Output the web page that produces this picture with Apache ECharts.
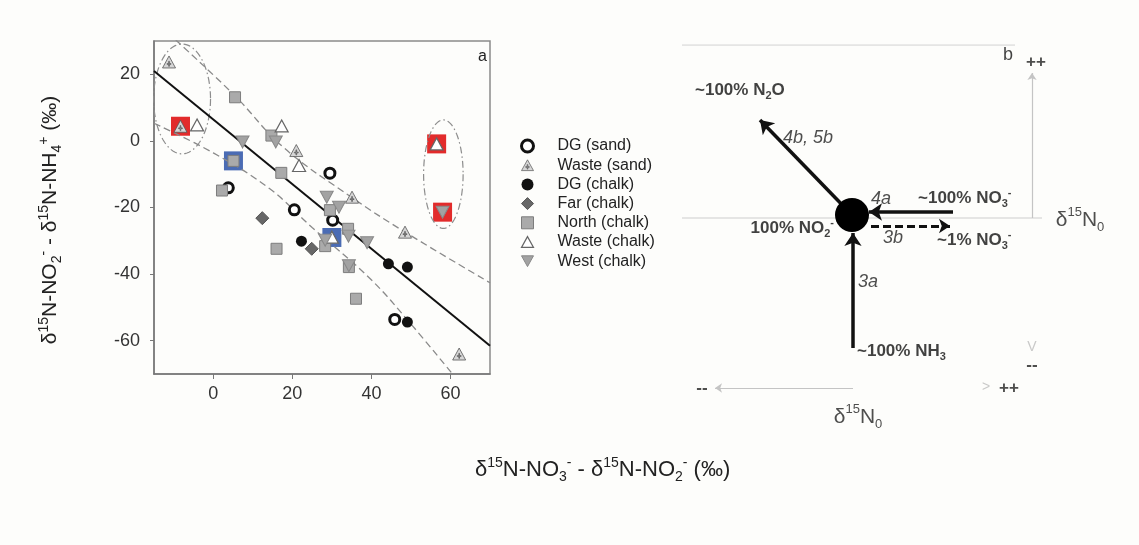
<!DOCTYPE html>
<html><head><meta charset="utf-8">
<script src="https://cdn.jsdelivr.net/npm/echarts@6/dist/echarts.min.js"></script>
<style>html,body{margin:0;padding:0;background:#fdfdfb}#c{width:1139px;height:545px}</style>
</head><body><div id="c"></div>
<script>
// ---------- data (left panel) ----------
const categories = ['DG (sand)','Waste (sand)','DG (chalk)','Far (chalk)','North (chalk)','Waste (chalk)','West (chalk)'];
const dgSand = [[3.8,-14.1],[29.5,-9.7],[20.5,-20.7],[30.2,-23.8],[45.9,-53.6]];
const wasteSand = [[-11.2,23.7],[-8.3,4.4],[21.0,-2.9],[35.1,-16.9],[48.5,-27.4],[62.2,-64.0]];
const dgChalk = [[22.3,-30.1],[44.3,-36.9],[49.1,-37.9],[49.1,-54.4]];
const farChalk = [[12.4,-23.2],[24.9,-32.4]];
const northChalk = [[5.5,13.1],[5.1,-6.0],[2.2,-14.9],[14.7,1.6],[17.2,-9.6],[16.0,-32.4],[29.5,-20.8],[34.1,-26.4],[28.3,-31.6],[34.3,-37.9],[36.1,-47.4]];
const wasteChalk = [[-4.1,4.8],[17.3,4.5],[21.7,-7.4],[30.0,-28.9],[56.5,-0.9]];
const westChalk = [[7.4,-0.3],[15.8,-0.3],[28.7,-16.9],[31.8,-19.9],[28.3,-29.8],[34.2,-28.6],[38.9,-30.6],[34.3,-37.5],[58.0,-21.4]];
const redHighlight = [[-8.3,4.4],[56.5,-0.9],[58.0,-21.4]];
const blueHighlight = [[5.1,-6.0],[30.0,-29.0]];
const fitLine = [[-15,21.0],[70,-61.5]];
const upperBand = [[-9.5,30.3],[5.5,13.5],[17.7,-1.9],[35.3,-17.2],[48.4,-27.3],[70,-42.6]];
const lowerBand = [[-15,5.3],[0,-3.6],[14.3,-14.4],[25,-26],[39.7,-41.4],[50,-55],[60.5,-70]];
const groupEllipses = [[-7.9,12.6,7.2,16.5],[58.2,-10.0,5.0,16.3]];
const xTicks = [0,20,40,60];
const yTicks = [-60,-40,-20,0,20];
const seriesData = [dgSand, wasteSand, dgChalk, farChalk, northChalk, wasteChalk, westChalk];

// ---------- schematic (right panel), units of the hidden schematic axes ----------
const schemFrame = [[[-17,17],[16.3,17]], [[-17,-0.3],[19,-0.3]]];
const schemArrowsThick = [[[0,0],[-9.2,9.5]], [[10.1,0.3],[1.7,0.3]], [[0.1,-13.3],[0.1,-1.8]]];
const schemArrowDashed = [[[1.9,-1.1],[9.8,-1.1]]];
const schemArrowsGray = [[[18,-0.3],[18,14.2]], [[0.1,-17.3],[-13.7,-17.3]]];
const schemNode = [[0,0]];
const schemLabels = [
  {text:'{b|~100% N}{bs|2}{b|O}', pos:[-15.7,12.5], align:'left'},
  {text:'{i|4b, 5b}', pos:[-6.9,7.7], align:'left'},
  {text:'{i|4a}', pos:[1.9,1.6], align:'left'},
  {text:'{b|~100% NO}{bs|3}{bp|-}', pos:[6.6,1.7], align:'left'},
  {text:'{b|100% NO}{bs|2}{bp|-}', pos:[-1.8,-1.3], align:'right'},
  {text:'{i|3b}', pos:[3.1,-2.3], align:'left'},
  {text:'{b|~1% NO}{bs|3}{bp|-}', pos:[8.5,-2.5], align:'left'},
  {text:'{i|3a}', pos:[0.6,-6.7], align:'left'},
  {text:'{b|~100% NH}{bs|3}', pos:[0.5,-13.6], align:'left'},
  {text:'{d|--}', pos:[-15,-17.3], align:'center'},
  {text:'{g|>}', pos:[13.4,-17.2], align:'center'},
  {text:'{d|++}', pos:[15.7,-17.3], align:'center'},
  {text:'{g|V}', pos:[18,-13.2], align:'center'},
  {text:'{d|--}', pos:[18,-15.0], align:'center'},
  {text:'{r|b}', pos:[15.6,16.0], align:'center'},
  {text:'{d|++}', pos:[18.4,15.3], align:'center'},
  {text:'{n|δ}{s|15}{n|N}{u|0}', pos:[22.8,-0.5], align:'center'},
  {text:'{n|δ}{s|15}{n|N}{u|0}', pos:[0.6,-20.2], align:'center'}
];

const FONT = '"Liberation Sans", Arial, Helvetica, sans-serif';
const TXT = '#222';
const styles = [
  {symbol:'circle', size:10, itemStyle:{color:'#fff', borderColor:'#111', borderWidth:3, opacity:1}},
  {symbol:'path://M10,0 L20,18 L0,18 Z M9.5,8 L10.5,8 L10.5,11.5 L13,11.5 L13,12.5 L10.5,12.5 L10.5,15.5 L9.5,15.5 L9.5,12.5 L7,12.5 L7,11.5 L9.5,11.5 Z', size:[13,12], itemStyle:{color:'#d6d6d6', borderColor:'#555', borderWidth:0.8, opacity:1}},
  {symbol:'circle', size:11, itemStyle:{color:'#111', opacity:1}},
  {symbol:'diamond', size:13, itemStyle:{color:'#676767', borderColor:'#555', borderWidth:1, opacity:1}},
  {symbol:'rect', size:11, itemStyle:{color:'#aaaaaa', borderColor:'#7d7d7d', borderWidth:1, opacity:1}},
  {symbol:'path://M10,0 L20,18 L0,18 Z', size:[13,12], itemStyle:{color:'#fff', borderColor:'#666', borderWidth:1.2, opacity:1}},
  {symbol:'path://M0,0 L20,0 L10,18 Z', size:[13,12], itemStyle:{color:'#a2a2a2', borderColor:'#888', borderWidth:1, opacity:1}}
];

function richAxis(size){
  return {
    n:{fontSize:size, fontWeight:'normal', lineHeight:size+6, color:TXT, fontFamily:FONT},
    s:{fontSize:Math.round(size*0.65), fontWeight:'normal', lineHeight:13, verticalAlign:'top', color:TXT, fontFamily:FONT},
    u:{fontSize:Math.round(size*0.65), fontWeight:'normal', lineHeight:13, verticalAlign:'bottom', color:TXT, fontFamily:FONT}
  };
}
const richSchem = {
  b:{fontSize:17, fontWeight:'bold', lineHeight:22, color:'#111', fontFamily:FONT},
  bs:{fontSize:11, fontWeight:'bold', lineHeight:11, verticalAlign:'bottom', color:'#111', fontFamily:FONT},
  bp:{fontSize:11, fontWeight:'bold', lineHeight:11, verticalAlign:'top', color:'#111', fontFamily:FONT},
  i:{fontSize:18, fontStyle:'italic', color:'#222', fontFamily:FONT},
  d:{fontSize:17, fontWeight:'bold', color:'#222', fontFamily:FONT},
  g:{fontSize:14, color:'#bbb', fontFamily:FONT},
  r:{fontSize:18, color:'#111', fontFamily:FONT},
  n:{fontSize:21, lineHeight:28, color:'#222', fontFamily:FONT},
  s:{fontSize:13, lineHeight:13, verticalAlign:'top', color:'#222', fontFamily:FONT},
  u:{fontSize:13, lineHeight:13, verticalAlign:'bottom', color:'#222', fontFamily:FONT}
};

const series = [];
// highlight squares
series.push({type:'scatter', xAxisIndex:0, yAxisIndex:0, data:redHighlight, symbol:'rect', symbolSize:19, itemStyle:{color:'#e22b2b', opacity:1}, z:1, silent:true});
series.push({type:'scatter', xAxisIndex:0, yAxisIndex:0, data:blueHighlight, symbol:'rect', symbolSize:19, itemStyle:{color:'#4b6cb4', opacity:1}, z:1, silent:true});
// regression and bands
series.push({type:'line', xAxisIndex:0, yAxisIndex:0, data:fitLine, symbol:'none', lineStyle:{color:'#111', width:2}, z:2, silent:true});
series.push({type:'line', xAxisIndex:0, yAxisIndex:0, data:upperBand, smooth:0.4, symbol:'none', lineStyle:{color:'#8a8a8a', width:1.3, type:[7,4]}, z:2, silent:true});
series.push({type:'line', xAxisIndex:0, yAxisIndex:0, data:lowerBand, smooth:0.4, symbol:'none', lineStyle:{color:'#8a8a8a', width:1.3, type:[7,4]}, z:2, silent:true});
// ellipses
series.push({type:'custom', xAxisIndex:0, yAxisIndex:0, data:groupEllipses, silent:true, z:2,
  renderItem(params, api){
    const c = api.coord([api.value(0), api.value(1)]);
    const s = api.size([api.value(2), api.value(3)]);
    const pts = [];
    for (let i=0;i<=90;i++){ const t=i/90*2*Math.PI; pts.push([c[0]+s[0]*Math.cos(t), c[1]+s[1]*Math.sin(t)]); }
    return {type:'polyline', shape:{points:pts}, style:{fill:null, stroke:'#8d8d8d', lineWidth:1.2, lineDash:[7,3,1.5,3]}};
  }});
// category scatters
categories.forEach((name,i)=>{
  series.push({type:'scatter', name, xAxisIndex:0, yAxisIndex:0, data:seriesData[i],
    symbol:styles[i].symbol, symbolSize:styles[i].size, itemStyle:styles[i].itemStyle, z:3});
});
// schematic
series.push({type:'lines', coordinateSystem:'cartesian2d', xAxisIndex:1, yAxisIndex:1, polyline:false, symbol:['none','none'],
  lineStyle:{color:'#dcdcdc', width:1.5, opacity:1}, data:schemFrame.map(c=>({coords:c})), z:2, silent:true});
series.push({type:'lines', coordinateSystem:'cartesian2d', xAxisIndex:1, yAxisIndex:1, polyline:false, symbol:['none','arrow'], symbolSize:7,
  lineStyle:{color:'#c4c4c4', width:1.2, opacity:1}, data:schemArrowsGray.map(c=>({coords:c})), z:2, silent:true});
series.push({type:'lines', coordinateSystem:'cartesian2d', xAxisIndex:1, yAxisIndex:1, polyline:false, symbol:['none','arrow'], symbolSize:13,
  lineStyle:{color:'#111', width:3.5, opacity:1}, data:schemArrowsThick.map(c=>({coords:c})), z:4, silent:true});
series.push({type:'lines', coordinateSystem:'cartesian2d', xAxisIndex:1, yAxisIndex:1, polyline:false, symbol:['none','arrow'], symbolSize:11,
  lineStyle:{color:'#111', width:3, opacity:1, type:[8,4]}, data:schemArrowDashed.map(c=>({coords:c})), z:4, silent:true});
series.push({type:'scatter', xAxisIndex:1, yAxisIndex:1, data:schemNode, symbol:'circle', symbolSize:34, itemStyle:{color:'#000', opacity:1}, z:5, silent:true, clip:false});
series.push({type:'scatter', xAxisIndex:1, yAxisIndex:1, symbolSize:0, z:6, silent:true, clip:false,
  data: schemLabels.map(l=>({value:l.pos, label:{show:true, formatter:l.text, distance:0,
    position: l.align==='left' ? 'right' : (l.align==='right' ? 'left' : 'inside'), rich:richSchem}})),
  label:{show:true, rich:richSchem}});

const option = {
  backgroundColor:'#fdfdfb',
  animation:false,
  textStyle:{fontFamily:FONT},
  title:[
    {text:'{n|δ}{s|15}{n|N-NO}{u|3}{s|-}{n| - δ}{s|15}{n|N-NO}{u|2}{s|-}{n| (‰)}', left:470, top:451,
     textStyle:{fontWeight:'normal', rich:richAxis(22)}},
    {text:'a', left:473, top:44, textStyle:{fontSize:16, fontWeight:'normal', color:TXT, fontFamily:FONT}}
  ],
  legend:{
    data:categories.map((name,i)=>({name, icon:styles[i].symbol, itemStyle:Object.assign({}, styles[i].itemStyle, {borderWidth: i===0 ? 3 : (i===1 ? 0.7 : styles[i].itemStyle.borderWidth || 0)})})),
    orient:'vertical', left:515, top:133, itemWidth:12, itemHeight:12, itemGap:3.2,
    formatter: n => '{sp|}{t|'+n+'}',
    textStyle:{rich:{sp:{width:19}, t:{fontSize:16, lineHeight:16, color:TXT, fontFamily:FONT}}},
    selectedMode:false
  },
  grid:[
    {left:154, top:41, width:336, height:333, show:true, borderColor:'#8a8a8a', borderWidth:1.5, backgroundColor:'transparent'},
    {left:682, top:45, width:430, height:380, show:false}
  ],
  xAxis:[
    {type:'value', gridIndex:0, min:-15, max:70,
     axisLine:{show:true, onZero:false, lineStyle:{color:'#777', width:1.5}},
     axisTick:{show:true, customValues:xTicks, length:5, lineStyle:{color:'#777'}},
     axisLabel:{customValues:xTicks, fontSize:18, color:'#333', margin:11, fontFamily:FONT},
     splitLine:{show:false}},
    {type:'value', gridIndex:1, min:-17, max:26, show:false}
  ],
  yAxis:[
    {type:'value', gridIndex:0, min:-70, max:30,
     axisLine:{show:true, onZero:false, lineStyle:{color:'#777', width:1.5}},
     axisTick:{show:true, customValues:yTicks, length:4, lineStyle:{color:'#777'}},
     axisLabel:{customValues:yTicks, fontSize:18, color:'#333', margin:14, fontFamily:FONT},
     splitLine:{show:false},
     name:'{n|δ}{s|15}{n|N-NO}{u|2}{s|-}{n| - δ}{s|15}{n|N-NH}{u|4}{s|+}{n| (‰)}',
     nameLocation:'middle', nameRotate:90, nameGap:90,
     nameTextStyle:{rich:richAxis(21), padding:[0,25,0,0]}},
    {type:'value', gridIndex:1, min:-21, max:17, show:false}
  ],
  series
};
const chart = echarts.init(document.getElementById('c'));
chart.setOption(option);
</script></body></html>
